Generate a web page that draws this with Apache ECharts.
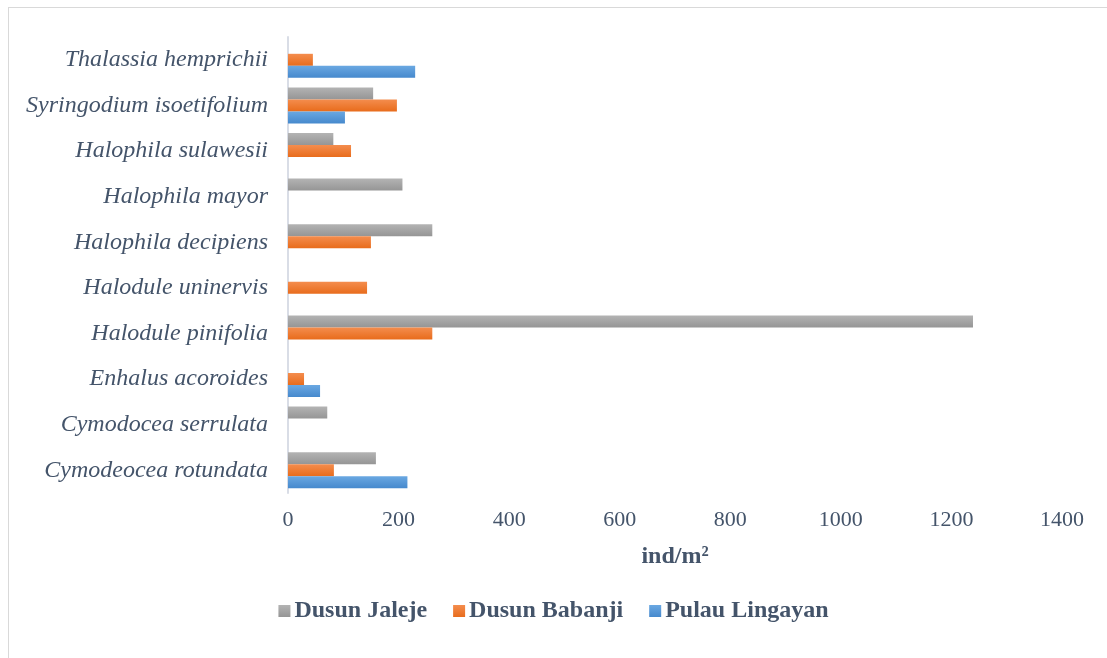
<!DOCTYPE html>
<html>
<head>
<meta charset="utf-8">
<script src="https://cdn.jsdelivr.net/npm/echarts@6/dist/echarts.min.js"></script>
<style>
    html, body { margin: 0; padding: 0; background: #fff; }
    .frame { position: absolute; left: 8px; top: 7px; width: 1120px; height: 680px; border: 1px solid #d9d9d9; box-sizing: border-box; }
    .details { position: absolute; left: 0; top: 0; width: 1107px; height: 658px; }
</style>
</head>
<body>
<div class="frame"></div>
<div class="details"></div>
<script>
    // 物种（自下而上）
    var species = ['Cymodeocea rotundata', 'Cymodocea serrulata', 'Enhalus acoroides', 'Halodule pinifolia',
        'Halodule uninervis', 'Halophila decipiens', 'Halophila mayor', 'Halophila sulawesii',
        'Syringodium isoetifolium', 'Thalassia hemprichii']
    var pulauLingayan = [216, 0, 58, 0, 0, 0, 0, 0, 103, 230]
    var dusunBabanji = [83, 0, 29, 261, 143, 150, 0, 114, 197, 45]
    var dusunJaleje = [159, 71, 0, 1239, 0, 261, 207, 82, 154, 0]
    var xTicks = [0, 200, 400, 600, 800, 1000, 1200, 1400]

    var textColor = '#44546A'
    var grad = function (a, b) {
        return new echarts.graphic.LinearGradient(0, 0, 0, 1, [{ offset: 0, color: a }, { offset: 1, color: b }])
    }
    var nz = function (arr) {
        return arr.map(function (v) { return v === 0 ? null : v })
    }

    var MyEcharts = echarts.init(document.querySelector('.details'))
    var option = {
        animation: false,
        textStyle: { fontFamily: 'Liberation Serif' },
        legend: {
            top: 594,
            left: 'center',
            itemWidth: 12,
            itemHeight: 12,
            itemGap: 26,
            icon: 'rect',
            textStyle: { fontSize: 24, fontWeight: 'bold', color: textColor, fontFamily: 'Liberation Serif', padding: [0, 0, 0, -1] },
            data: ['Dusun Jaleje', 'Dusun Babanji', 'Pulau Lingayan']
        },
        grid: {
            left: 288,
            right: 45,
            top: 37,
            bottom: 165
        },
        xAxis: {
            type: 'value',
            min: xTicks[0],
            max: xTicks[xTicks.length - 1],
            interval: 200,
            name: 'ind/m²',
            nameLocation: 'middle',
            nameGap: 52,
            nameTextStyle: { fontSize: 24, fontWeight: 'bold', color: textColor, fontFamily: 'Liberation Serif' },
            axisLine: { show: false },
            axisTick: { show: false },
            splitLine: { show: false },
            axisLabel: { fontSize: 22, color: textColor, margin: 16, fontFamily: 'Liberation Serif', formatter: function (v) { return String(v) } }
        },
        yAxis: {
            type: 'category',
            data: species,
            axisLine: { lineStyle: { color: '#d9dde6', width: 2 } },
            axisTick: { show: false },
            axisLabel: { fontSize: 24, fontStyle: 'italic', color: textColor, margin: 20, fontFamily: 'Liberation Serif' }
        },
        series: [{
            name: 'Dusun Jaleje',
            type: 'bar',
            data: nz(dusunJaleje),
            barWidth: 12,
            barGap: '0%',
            itemStyle: { color: grad('#b3b3b3', '#959595') }
        }, {
            name: 'Dusun Babanji',
            type: 'bar',
            data: nz(dusunBabanji),
            barWidth: 12,
            barGap: '0%',
            itemStyle: { color: grad('#f48d4e', '#e86c1c') }
        }, {
            name: 'Pulau Lingayan',
            type: 'bar',
            data: nz(pulauLingayan),
            barWidth: 12,
            barGap: '0%',
            itemStyle: { color: grad('#6aa8e2', '#4689cd') }
        }]
    }
    MyEcharts.setOption(option)
</script>
</body>
</html>
